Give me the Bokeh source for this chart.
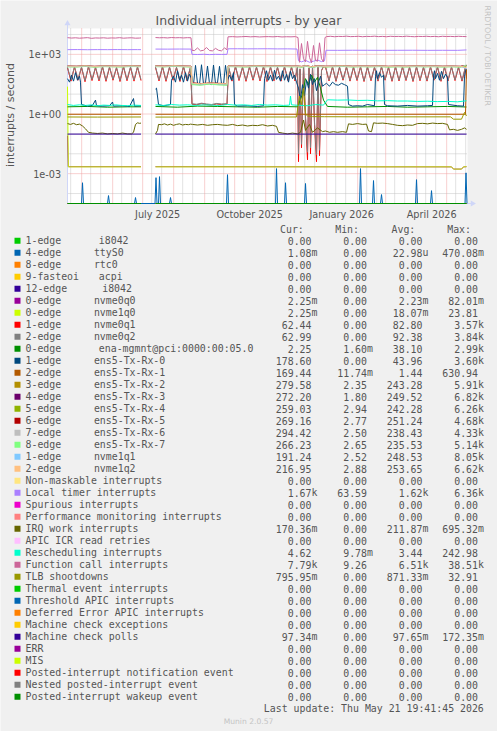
import math
from datetime import datetime
from bokeh.plotting import figure
from bokeh.models import Range1d, LinearScale
from bokeh.core.properties import value
from bokeh.embed import file_html
from bokeh.resources import INLINE

# ---------------- data (day offsets from START, values in interrupts/s) ----------------
START = datetime(2025, 4, 16, 19, 41, 45)
END = datetime(2026, 5, 21, 19, 41, 45)

ttys0_peak_days = [15, 41, 68, 88.5, 92, 103, 160, 209, 218, 238, 293, 306, 314, 349, 364, 398.5]
ttys0_peak_vals = [3.5e-4, 7.9e-5, 6.3e-5, 6.3e-4, 7.1e-4, 6.3e-5, 8.9e-4, 1.8e-3, 3.5e-4, 3.2e-4,
                   1.8e-3, 4.5e-4, 8.9e-5, 5e-4, 1.4e-4, 1.1e-3]

nvme0q0_days = [0, 0.8, 73.5, 74, 88, 384, 386, 394, 396, 399]
nvme0q0_vals = [0.082, 0.00225, 0.00225, None, 0.00225, 0.0022, 0.0017, 0.0017, 0.0022, 0.00225]

nvme1q0_days = [0, 0.8, 73.5, 74, 88, 384, 386, 394, 396, 399]
nvme1q0_vals = [23.81, 0.0022, 0.0022, None, 0.0022, 0.0022, 0.0017, 0.0017, 0.0022, 0.00225]

nvme_days = [0, 3.5, 7, 10.5, 14, 17.5, 21, 24.5, 28, 31.5, 35, 38.5, 42, 45.5, 49, 52.5, 56, 59.5, 63, 66.5, 70, 73.5,
             74,
             88, 91.5, 95, 98.5, 102, 105.5, 109, 112.5, 116, 119.5, 123,
             124.5, 129, 134, 139, 144, 149, 154, 159.5,
             161, 164.5, 168, 171.5, 175, 178.5, 182, 185.5, 189, 192.5, 196, 199.5, 203, 206.5, 210, 213.5, 217, 220.5, 224, 227.5,
             230, 231, 232.5, 234, 236, 238, 240, 241.5, 243, 245, 247, 249, 250.5, 252, 254, 256,
             258, 261.5, 265, 268.5, 272, 275.5, 279, 282.5, 286, 289.5, 293, 296.5, 300, 303.5, 307, 310.5, 314, 317.5, 321, 324.5,
             328, 331.5, 335, 338.5, 342, 345.5, 349, 352.5, 356, 359.5, 363, 366.5, 370, 373.5, 377, 380.5, 384, 387.5, 391, 394.5,
             398, 399]
nvme0q1_vals = [210, 45, 230, 50, 220, 42, 240, 48, 215, 46, 235, 44, 225, 50, 210, 43, 240, 47, 220, 45, 230, 48,
                None,
                220, 46, 235, 44, 225, 50, 215, 43, 240, 47, 225,
                3.1, 2.9, 3.3, 3.0, 2.8, 3.2, 3.0, 3.1,
                230, 45, 240, 48, 220, 44, 235, 50, 225, 46, 240, 43, 230, 47, 220, 45, 235, 48, 225, 46,
                240, 0.004, 180, 0.02, 250, 0.6, 0.005, 200, 0.01, 260, 0.3, 0.004, 220, 0.008, 150, 240,
                230, 46, 240, 44, 225, 50, 235, 45, 220, 48, 240, 43, 230, 47, 225, 45, 235, 50, 220, 44,
                240, 46, 230, 48, 225, 43, 235, 47, 220, 45, 240, 50, 230, 44, 225, 46, 235, 48, 220, 45,
                230, 62]
nvme0q2_vals = [225, 52, 240, 55, 230, 48, 250, 54, 228, 52, 245, 50, 236, 56, 222, 49, 250, 53, 232, 51, 240, 54,
                None,
                232, 52, 245, 50, 236, 56, 226, 49, 250, 53, 236,
                3.3, 3.1, 3.5, 3.2, 3.0, 3.4, 3.2, 3.3,
                240, 51, 250, 54, 232, 50, 246, 56, 236, 52, 250, 49, 240, 53, 232, 51, 246, 54, 236, 52,
                250, 0.01, 190, 0.03, 260, 0.8, 0.012, 210, 0.02, 270, 0.4, 0.009, 230, 0.015, 160, 250,
                240, 50, 232, 48, 236, 55, 228, 49, 242, 52, 230, 47, 238, 51, 226, 49, 244, 54, 231, 48,
                236, 50, 240, 52, 228, 47, 238, 51, 232, 49, 226, 54, 240, 48, 236, 50, 230, 52, 242, 49,
                238, 63]

ena_days = [0, 20, 40, 60, 73.5, 74, 88, 110, 130, 150, 170, 190, 210, 230, 235, 238, 241, 244, 247, 250,
            253, 256, 260, 280, 300, 320, 340, 360, 380, 399]
ena_vals = [2.3, 2.4, 2.2, 2.3, 2.3, None, 2.4, 2.2, 2.5, 2.4, 2.3, 2.2, 2.4, 2.3, 10, 60, 30, 90, 40, 70,
            20, 5, 2.4, 2.2, 2.3, 2.4, 2.2, 2.3, 2.4, 2.25]

txrx0_days = [0, 2, 4, 6, 8, 10, 12, 13, 14, 20, 25, 28, 29, 35, 42, 45, 46, 55, 62, 66, 67, 73.5, 74,
              88, 89, 91, 96, 100, 103, 104, 106, 108, 110, 112, 114, 116, 118, 120, 122, 124,
              126, 128, 130, 132, 134, 136, 138, 140, 142, 144, 146, 148, 150, 152, 154, 156, 158, 160,
              162, 164, 166, 167, 170, 180, 190, 196, 197, 199, 201, 203, 205, 207, 209, 211, 213, 215, 217, 219,
              221, 223, 225, 227, 229,
              231, 233, 235, 237, 239, 241, 243, 245, 247, 249, 251, 253, 255, 257,
              259, 262, 265, 268, 271, 274, 277, 280, 281, 285, 290, 295, 300, 307, 308, 309, 310, 312, 314, 316, 317,
              320, 330, 340, 350, 360, 365, 366, 367, 368, 370, 372, 374, 376, 378, 380, 381, 390, 396, 397, 398, 399]
txrx0_vals = [60, 40, 90, 45, 120, 50, 80, 40, 3, 2.5, 2.7, 5, 2.6, 2.5, 2.6, 4, 2.5, 2.6, 2.4, 6, 2.5, 2.6, None,
              18, 20, 3, 2.6, 2.8, 3, 50, 80, 40, 150, 50, 90, 40, 120, 45, 100, 60,
              32, 280, 35, 30, 300, 32, 38, 260, 33, 30, 290, 34, 38, 250, 33, 30, 280, 50,
              90, 50, 120, 3, 2.5, 2.6, 2.4, 2.6, 60, 150, 50, 90, 45, 160, 55, 80, 45, 150, 50, 100,
              40, 140, 60, 90, 40,
              20, 5, 30, 8, 50, 20, 100, 30, 60, 15, 40, 80, 25, 30,
              35, 25, 40, 30, 28, 35, 30, 25, 3, 2.5, 2.6, 2.5, 3, 2.6, 80, 150, 60, 120, 70, 90, 3,
              2.6, 2.5, 2.7, 2.5, 2.6, 2.7, 90, 150, 60, 110, 50, 140, 60, 100, 70, 3, 2.6, 2.5, 80, 150, 178.6]

txrx1_days = [0, 73.5, 74, 88, 398, 399]
txrx1_vals = [0.97, 0.97, None, 0.97, 0.97, 169.44]

band_days = [0, 9, 18, 27, 36, 45, 54, 63, 73.5, 74, 88, 97, 106, 115, 123.5, 124.5, 133, 142, 151, 159.5,
             160.5, 170, 179, 188, 197, 206, 215, 224, 229.5, 234, 239, 244, 249, 254,
             258.5, 267, 276, 285, 294, 303, 312, 321, 330, 339, 348, 357, 366, 375, 384, 393, 399]
txrx2_vals = [250, 245, 260, 240, 255, 250, 245, 258, 250, None, 255, 248, 262, 250, 245, 34, 31, 36, 33, 32,
              255, 250, 245, 260, 250, 255, 262, 248, 250, 240, 260, 230, 255, 250,
              245, 250, 258, 246, 252, 248, 255, 243, 250, 247, 255, 249, 252, 246, 250, 243, 280]
txrx3_vals = [255, 250, 262, 248, 258, 252, 250, 260, 255, None, 258, 252, 265, 255, 250, 36, 33, 35, 34, 33,
              260, 255, 250, 262, 255, 258, 260, 252, 255, 245, 265, 235, 260, 255,
              250, 255, 262, 250, 256, 252, 258, 248, 255, 250, 258, 252, 256, 250, 254, 248, 272]
txrx4_vals = [245, 240, 252, 238, 248, 244, 240, 250, 246, None, 248, 242, 255, 245, 240, 32, 30, 34, 31, 30,
              248, 244, 240, 252, 245, 250, 248, 242, 246, 235, 255, 225, 248, 244,
              240, 246, 250, 240, 246, 242, 248, 238, 244, 240, 248, 242, 246, 240, 244, 238, 259]
txrx5_vals = [258, 252, 265, 250, 260, 255, 252, 262, 258, None, 260, 255, 268, 258, 252, 37, 34, 36, 35, 34,
              262, 258, 252, 265, 258, 260, 262, 255, 258, 248, 268, 238, 262, 258,
              252, 258, 265, 252, 258, 255, 260, 250, 258, 252, 260, 255, 258, 252, 256, 250, 269]
txrx6_vals = [240, 236, 248, 232, 244, 240, 236, 246, 242, None, 244, 238, 250, 240, 236, 31, 29, 33, 30, 29,
              244, 240, 236, 248, 240, 244, 244, 238, 242, 232, 250, 222, 244, 240,
              236, 242, 246, 236, 242, 238, 244, 234, 240, 236, 244, 238, 242, 236, 240, 234, 294]
txrx7_vals = [238, 234, 246, 230, 242, 238, 234, 244, 240, None, 242, 236, 248, 238, 234, 30, 28, 32, 29, 28,
              242, 238, 234, 246, 238, 242, 242, 236, 240, 230, 248, 220, 242, 238,
              234, 240, 244, 234, 240, 236, 242, 232, 238, 234, 242, 236, 240, 234, 238, 232, 266]
nvme1q1_vals = [252, 248, 260, 244, 256, 250, 248, 258, 252, None, 254, 248, 262, 252, 248, 35, 32, 35, 33, 32,
                256, 252, 248, 260, 252, 256, 256, 250, 254, 244, 262, 232, 256, 252,
                248, 254, 260, 248, 254, 250, 256, 246, 252, 248, 256, 250, 254, 248, 252, 246, 191]
nvme1q2_vals = [256, 252, 264, 248, 260, 254, 252, 262, 256, None, 258, 252, 266, 256, 252, 36, 33, 36, 34, 33,
                260, 256, 252, 264, 256, 260, 260, 254, 258, 248, 266, 236, 260, 256,
                252, 258, 264, 252, 258, 254, 260, 250, 256, 252, 260, 254, 258, 252, 256, 250, 217]

loc_days = [0, 10, 20, 30, 40, 50, 60, 70, 73.5, 74, 88, 100, 112, 123.5,
            124.5, 130, 136, 142, 148, 154, 159.5, 160.5, 170, 180, 190, 200, 210, 220, 229.5,
            231, 234, 238, 242, 246, 250, 254, 257,
            258.5, 270, 285, 300, 315, 330, 345, 360, 375, 390, 399]
loc_vals = [1720, 1740, 1710, 1730, 1720, 1740, 1720, 1730, 1720, None, 1840, 1830, 1850, 1840,
            1000, 980, 1010, 970, 1000, 990, 1000, 1900, 1910, 1890, 1900, 1910, 1880, 1890, 1850,
            480, 420, 500, 400, 450, 520, 430, 470,
            1600, 1590, 1610, 1600, 1590, 1600, 1610, 1590, 1600, 1590, 1670]

iwi_days = [0, 3, 6, 9, 12, 15, 18, 21, 25, 30, 35, 40, 45, 50, 55, 60, 64, 66, 68, 70, 72, 73.5, 74,
            88, 90, 91, 94, 97, 100, 103, 106, 109, 112, 115, 118, 121, 123, 125, 130, 135, 140, 145, 150,
            155, 160, 165, 170, 175, 180, 185, 190, 195, 200, 205, 209, 211, 215, 220, 225, 230, 233, 236, 238,
            242, 245, 250, 255, 258, 262, 266, 270, 275, 279, 281, 285, 290, 295, 299, 301, 304, 306, 310, 315,
            320, 325, 330, 335, 340, 345, 350, 355, 360, 365, 370, 375, 380, 382, 386, 390, 394, 397, 399]
iwi_vals = [0.33, 0.3, 0.34, 0.29, 0.31, 0.25, 0.18, 0.12, 0.11, 0.105, 0.11, 0.1, 0.105, 0.1, 0.11, 0.1, 0.1,
            0.12, 0.3, 0.36, 0.34, 0.35, None,
            0.1, 0.15, 0.3, 0.29, 0.32, 0.28, 0.31, 0.27, 0.3, 0.32, 0.28, 0.3, 0.29, 0.31, 0.3, 0.28, 0.3, 0.27,
            0.29, 0.3, 0.28, 0.27, 0.3, 0.26, 0.28, 0.25, 0.27, 0.26, 0.29, 0.25, 0.27, 0.24, 0.12, 0.11, 0.1,
            0.11, 0.1, 0.12, 0.5, 0.15, 0.3, 0.12, 0.2, 0.13, 0.14, 0.12, 0.13, 0.12, 0.13, 0.12, 0.32, 0.3, 0.33,
            0.3, 0.31, 0.14, 0.13, 0.36, 0.34, 0.35, 0.33, 0.3, 0.27, 0.26, 0.28, 0.27, 0.33, 0.34, 0.32, 0.35,
            0.33, 0.34, 0.3, 0.16, 0.17, 0.15, 0.17, 0.2, 0.17]

res_days = [0, 6, 12, 18, 24, 30, 36, 42, 48, 54, 60, 66, 73.5, 74,
            88, 96, 104, 112, 120, 128, 136, 144, 152, 160, 168, 176, 184, 192, 200, 208, 216, 222, 223, 224,
            232, 240, 248, 256, 260, 270, 280, 290, 300, 310, 320, 330, 340, 350, 360, 370, 380, 390, 399]
res_vals = [3.0, 2.7, 2.9, 2.7, 2.9, 2.6, 2.8, 2.7, 2.9, 2.7, 2.6, 2.8, 2.7, None,
            2.9, 2.7, 3.0, 2.8, 2.9, 2.7, 2.9, 2.8, 2.7, 3.0, 2.8, 2.9, 2.7, 3.0, 2.8, 2.9, 2.7, 2.8, 8.0, 2.9,
            2.7, 2.6, 3.0, 2.8, 5.2, 5.0, 5.1, 4.8, 4.9, 4.6, 4.7, 4.5, 4.5, 4.3, 4.4, 4.2, 4.3, 4.1, 4.62]

cal_days = [0, 4, 8, 12, 16, 20, 24, 28, 32, 36, 40, 44, 48, 52, 56, 60, 64, 68, 72, 73.5, 74,
            88, 92, 96, 100, 104, 108, 112, 116, 120, 123.5,
            124.5, 127, 130, 133, 136, 139, 142, 145, 148, 151, 154, 157, 159.5,
            160.5, 165, 169.5, 174, 178.5, 183, 187.5, 192, 196.5, 201, 205.5, 210, 214.5, 219, 223.5, 228,
            230.5, 232, 234, 236, 238, 240, 242, 244, 246, 248, 250, 252, 254, 256, 257.5,
            259, 263, 267, 271, 275, 279, 283, 287, 291, 295, 299, 303, 307, 311, 315, 319, 323, 327, 331, 335,
            339, 343, 347, 351, 355, 359, 363, 367, 371, 375, 379, 383, 387, 391, 395, 399]
cal_vals = [6900, 6600, 6800, 6500, 6700, 6900, 6400, 6700, 6600, 6800, 6500, 6700, 6600, 6900, 6500, 6700,
            6800, 6500, 6600, 6700, None,
            7000, 6800, 6900, 6700, 7000, 6800, 6900, 6700, 6900, 6800,
            1600, 1550, 2100, 1500, 1600, 2200, 1550, 1500, 2000, 1600, 1500, 2100, 1700,
            7600, 7800, 7500, 7700, 7900, 7600, 7800, 7500, 7700, 7800, 7600, 7900, 7500, 7700, 7600, 7800,
            7000, 400, 3500, 600, 420, 4500, 700, 380, 2800, 500, 450, 3800, 600, 420, 7000,
            7800, 8100, 7700, 8000, 7900, 8200, 7800, 7900, 8100, 7700, 8000, 7900, 8200, 7800, 8000, 7700,
            8100, 7900, 8000, 7800, 8200, 7900, 7700, 8000, 7900, 8100, 7800, 8000, 7700, 8100, 7900, 8000,
            7800, 8100, 7900, 7790]

tlb_days = [0, 30, 73.5, 74, 88, 150, 229, 232, 234, 236, 238, 240, 245, 257, 300, 383, 386, 394, 397, 399]
tlb_vals = [0.71, 0.7, 0.71, None, 0.7, 0.71, 0.71, 8.0, 3.0, 20.0, 1.0, 0.8, 0.74, 0.73, 0.72, 0.72, 0.55,
            0.55, 1.2, 0.8]

mcp_days = [0, 73.5, 74, 88, 399]
mcp_vals = [0.0976, 0.0976, None, 0.0976, 0.0973]

# series that are zero for the whole year (rrdtool clamps them onto the bottom of the log graph)
zero_days = [0, 73.5, 74, 88, 399]
ZERO_COLORS = ["#00CC00", "#FF8000", "#FFCC00", "#330099", "#FFE680", "#EE00CC", "#FF8080", "#FFBFFF",
               "#00CC00", "#0066B3", "#FF8000", "#FFCC00", "#990099", "#CCFF00", "#FF0000", "#808080", "#008F00"]

# ---------------- legend table ----------------
LEG_L1 = ["1-edge", "4-edge", "8-edge", "9-fasteoi", "12-edge", "0-edge", "0-edge", "1-edge", "2-edge",
          "0-edge", "1-edge", "2-edge", "3-edge", "4-edge", "5-edge", "6-edge", "7-edge", "8-edge", "1-edge",
          "2-edge", "Non-maskable interrupts", "Local timer interrupts", "Spurious interrupts",
          "Performance monitoring interrupts", "IRQ work interrupts", "APIC ICR read retries",
          "Rescheduling interrupts", "Function call interrupts", "TLB shootdowns", "Thermal event interrupts",
          "Threshold APIC interrupts", "Deferred Error APIC interrupts", "Machine check exceptions",
          "Machine check polls", "ERR", "MIS", "Posted-interrupt notification event",
          "Nested posted-interrupt event", "Posted-interrupt wakeup event"]
LEG_L2 = ["i8042", "ttyS0", "rtc0", "acpi", "i8042", "nvme0q0", "nvme1q0", "nvme0q1", "nvme0q2",
          "ena-mgmnt@pci:0000:00:05.0", "ens5-Tx-Rx-0", "ens5-Tx-Rx-1", "ens5-Tx-Rx-2", "ens5-Tx-Rx-3",
          "ens5-Tx-Rx-4", "ens5-Tx-Rx-5", "ens5-Tx-Rx-6", "ens5-Tx-Rx-7", "nvme1q1", "nvme1q2"] + [""] * 19
LEG_COLORS = ["#00CC00", "#0066B3", "#FF8000", "#FFCC00", "#330099", "#990099", "#CCFF00", "#FF0000", "#808080",
              "#008F00", "#00487D", "#B35A00", "#B38F00", "#6B006B", "#8FB300", "#B30000", "#BEBEBE", "#80FF80",
              "#80C9FF", "#FFC080", "#FFE680", "#AA80FF", "#EE00CC", "#FF8080", "#666600", "#FFBFFF", "#00FFCC",
              "#CC6699", "#999900", "#00CC00", "#0066B3", "#FF8000", "#FFCC00", "#330099", "#990099", "#CCFF00",
              "#FF0000", "#808080", "#008F00"]
LEG_CUR = ["0.00", "1.08m", "0.00", "0.00", "0.00", "2.25m", "2.25m", "62.44", "62.99", "2.25", "178.60",
           "169.44", "279.58", "272.20", "259.03", "269.16", "294.42", "266.23", "191.24", "216.95", "0.00",
           "1.67k", "0.00", "0.00", "170.36m", "0.00", "4.62", "7.79k", "795.95m", "0.00", "0.00", "0.00",
           "0.00", "97.34m", "0.00", "0.00", "0.00", "0.00", "0.00"]
LEG_MIN = ["0.00", "0.00", "0.00", "0.00", "0.00", "0.00", "0.00", "0.00", "0.00", "1.60m", "0.00", "11.74m",
           "2.35", "1.80", "2.94", "2.77", "2.50", "2.65", "2.52", "2.88", "0.00", "63.59", "0.00", "0.00",
           "0.00", "0.00", "9.78m", "9.26", "0.00", "0.00", "0.00", "0.00", "0.00", "0.00", "0.00", "0.00",
           "0.00", "0.00", "0.00"]
LEG_AVG = ["0.00", "22.98u", "0.00", "0.00", "0.00", "2.23m", "18.07m", "82.80", "92.38", "38.10", "43.96",
           "1.44", "243.28", "249.52", "242.28", "251.24", "238.43", "235.53", "248.53", "253.65", "0.00",
           "1.62k", "0.00", "0.00", "211.87m", "0.00", "3.44", "6.51k", "871.33m", "0.00", "0.00", "0.00",
           "0.00", "97.65m", "0.00", "0.00", "0.00", "0.00", "0.00"]
LEG_MAX = ["0.00", "470.08m", "0.00", "0.00", "0.00", "82.01m", "23.81", "3.57k", "3.84k", "2.99k", "3.60k",
           "630.94", "5.91k", "6.82k", "6.26k", "4.68k", "4.33k", "5.14k", "8.05k", "6.62k", "0.00", "6.36k",
           "0.00", "0.00", "695.32m", "0.00", "242.98", "38.51k", "32.91", "0.00", "0.00", "0.00", "0.00",
           "172.35m", "0.00", "0.00", "0.00", "0.00", "0.00"]
HEADERS = ["Cur:", "Min:", "Avg:", "Max:"]
TITLE = "Individual interrupts - by year"
Y_LABEL = "interrupts / second"
Y_TICKS = [1e3, 1.0, 1e-3]
Y_TICK_LABELS = ["1e+03", "1e+00", "1e-03"]
Y_MINOR = [1e4, 1e2, 1e1, 1e-1, 1e-2, 1e-4]
X_TICKS = [datetime(2025, 7, 16), datetime(2025, 10, 16), datetime(2026, 1, 16), datetime(2026, 4, 16)]
X_TICK_LABELS = ["July 2025", "October 2025", "January 2026", "April 2026"]
LAST_UPDATE = "Last update: Thu May 21 19:41:45 2026"
FOOTER = "Munin 2.0.57"
SIDE_TEXT = "RRDTOOL / TOBI OETIKER"

# ---------------- helpers ----------------
EPOCH = datetime(1970, 1, 1)


def ms_of(dt):
    return (dt - EPOCH).total_seconds() * 1000.0


START_MS, END_MS = ms_of(START), ms_of(END)
DAY_MS = 86400000.0


def xs(days):
    return [START_MS + d * DAY_MS for d in days]


def ys(vals):
    return [float("nan") if v is None else float(v) for v in vals]


LOG_TOP, LOG_BOT = 4.3, -4.5
Y_MAX, Y_MIN = 10 ** LOG_TOP, 10 ** LOG_BOT

tt_days, tt_vals = [], []
for d, v in zip(ttys0_peak_days, ttys0_peak_vals):
    tt_days += [d - 1.0, d, d + 1.0]
    tt_vals += [Y_MIN, v, Y_MIN]

SERIES = [
    (tt_days, tt_vals, "#0066B3"),
    (nvme0q0_days, nvme0q0_vals, "#990099"),
    (nvme1q0_days, nvme1q0_vals, "#CCFF00"),
    (nvme_days, nvme0q1_vals, "#FF0000"),
    (nvme_days, nvme0q2_vals, "#808080"),
    (ena_days, ena_vals, "#008F00"),
    (txrx0_days, txrx0_vals, "#00487D"),
    (txrx1_days, txrx1_vals, "#B35A00"),
    (band_days, txrx2_vals, "#B38F00"),
    (band_days, txrx3_vals, "#6B006B"),
    (band_days, txrx4_vals, "#8FB300"),
    (band_days, txrx5_vals, "#B30000"),
    (band_days, txrx6_vals, "#BEBEBE"),
    (band_days, txrx7_vals, "#80FF80"),
    (band_days, nvme1q1_vals, "#80C9FF"),
    (band_days, nvme1q2_vals, "#FFC080"),
    (loc_days, loc_vals, "#AA80FF"),
    (iwi_days, iwi_vals, "#666600"),
    (res_days, res_vals, "#00FFCC"),
    (cal_days, cal_vals, "#CC6699"),
    (tlb_days, tlb_vals, "#999900"),
    (mcp_days, mcp_vals, "#330099"),
]
for dd, vv, _ in SERIES:
    assert len(dd) == len(vv), (len(dd), len(vv))
for lst in (LEG_L1, LEG_L2, LEG_COLORS, LEG_CUR, LEG_MIN, LEG_AVG, LEG_MAX):
    assert len(lst) == 39

# ---------------- page geometry (canvas pixels) ----------------
BG = "#F0F0F0"
FONT_C = "#555555"
SANS = "DejaVu Sans"
MONO = "DejaVu Sans Mono"
W, H = 497, 731
CH_L, CH_R, CH_T, CH_B = 67, 467, 28, 203
TXT_DY = -3.0  # baseline correction for alphabetic-baseline texts

px_per_ms = (CH_R - CH_L) / (END_MS - START_MS)
x0 = START_MS - CH_L / px_per_ms
x1 = END_MS + (W - CH_R) / px_per_ms
dec_px = (CH_B - CH_T) / (LOG_TOP - LOG_BOT)
y_top = 10 ** (LOG_TOP + CH_T / dec_px)
y_bot = 10 ** (LOG_BOT - (H - CH_B) / dec_px)

p = figure(width=W, height=H, x_axis_type="datetime", y_axis_type="log",
           x_range=Range1d(x0, x1), y_range=Range1d(y_bot, y_top),
           x_axis_location=None, y_axis_location=None, min_border=0, title=None,
           output_backend="svg", toolbar_location=None,
           background_fill_color=BG, border_fill_color=BG, outline_line_color=None)
p.grid.visible = False
p.extra_x_ranges = {"px": Range1d(0, W)}
p.extra_y_ranges = {"px": Range1d(H, 0)}
p.extra_x_scales = {"px": LinearScale()}
p.extra_y_scales = {"px": LinearScale()}
PX = dict(x_range_name="px", y_range_name="px")

# plot area
p.quad(left=[START_MS], right=[END_MS], bottom=[Y_MIN], top=[Y_MAX], fill_color="white", line_color=None)

# grid
MGRID = "#F0A0A0"
GRID = "#C4C4C4"
month_starts = [datetime(y, m, 1) for (y, m) in
                [(2025, 5), (2025, 6), (2025, 7), (2025, 8), (2025, 9), (2025, 10), (2025, 11), (2025, 12),
                 (2026, 1), (2026, 2), (2026, 3), (2026, 4), (2026, 5)]]
minor_x = []
for (y, m) in [(2025, 4), (2025, 5), (2025, 6), (2025, 7), (2025, 8), (2025, 9), (2025, 10), (2025, 11),
               (2025, 12), (2026, 1), (2026, 2), (2026, 3), (2026, 4), (2026, 5)]:
    for dday in (10, 20):
        t = ms_of(datetime(y, m, dday))
        if START_MS < t < END_MS:
            minor_x.append(t)
major_x = [ms_of(t) for t in month_starts]
p.segment(x0=minor_x, y0=[Y_MIN] * len(minor_x), x1=minor_x, y1=[Y_MAX] * len(minor_x),
          line_color=GRID, line_dash="1 1", line_width=1)
p.segment(x0=[START_MS] * len(Y_MINOR), y0=Y_MINOR, x1=[END_MS] * len(Y_MINOR), y1=Y_MINOR,
          line_color=GRID, line_dash="1 1", line_width=1)
p.segment(x0=major_x, y0=[Y_MIN] * len(major_x), x1=major_x, y1=[Y_MAX] * len(major_x),
          line_color=MGRID, line_dash="1 1", line_width=1)
p.segment(x0=[START_MS] * len(Y_TICKS), y0=Y_TICKS, x1=[END_MS] * len(Y_TICKS), y1=Y_TICKS,
          line_color=MGRID, line_dash="1 1", line_width=1)

# axes lines + arrows
AXIS_C = "#CFD6F8"
y_arrow = 10 ** (LOG_TOP + 5 / dec_px)
x_arrow = END_MS + 5 / px_per_ms
p.segment(x0=[START_MS], y0=[Y_MIN], x1=[START_MS], y1=[y_arrow], line_color=AXIS_C, line_width=1)
p.segment(x0=[START_MS], y0=[Y_MIN], x1=[x_arrow], y1=[Y_MIN], line_color=AXIS_C, line_width=1)
p.scatter(x=[START_MS], y=[y_arrow], marker="triangle", size=6, fill_color=AXIS_C, line_color=None)
p.scatter(x=[x_arrow], y=[Y_MIN], marker="triangle", angle=-math.pi / 2, size=6, fill_color=AXIS_C,
          line_color=None)

# data lines
for dd, vv, col in SERIES:
    p.line(xs(dd), ys(vv), line_color=col, line_width=1)
for zc in ZERO_COLORS:
    p.line(xs(zero_days), [Y_MIN, Y_MIN, float("nan"), Y_MIN, Y_MIN], line_color=zc, line_width=1)

# axis tick labels (positions through the scales)
p.text(x=[60.6] * 3, y=Y_TICKS, text=Y_TICK_LABELS, x_range_name="px", text_align="right",
       text_baseline="middle", text_font=value(SANS), text_font_size="9.7px", text_color=FONT_C)
p.text(x=[ms_of(t) for t in X_TICKS], y=[216.6 + TXT_DY] * 4, text=X_TICK_LABELS, y_range_name="px",
       text_align="center", text_baseline="alphabetic", text_font=value(SANS), text_font_size="9.7px",
       text_color=FONT_C)

# title, y label, side text
p.text(x=[248], y=[23 + TXT_DY], text=[TITLE], text_align="center", text_baseline="alphabetic",
       text_font=value(SANS), text_font_size="12.5px", text_color=FONT_C, **PX)
p.text(x=[10], y=[(CH_T + CH_B) / 2 - 1], text=[Y_LABEL], angle=math.pi / 2, text_align="center",
       text_baseline="middle", text_font=value(SANS), text_font_size="11px", text_color=FONT_C, **PX)
p.text(x=[487], y=[5], text=[SIDE_TEXT], angle=-math.pi / 2, text_align="left",
       text_baseline="middle", text_font=value(SANS), text_font_size="7.8px", text_color="#C4C4C4", **PX)

# ---------------- legend ----------------
n = len(LEG_L1)
row_base = [243.3 + 12 * i + TXT_DY for i in range(n)]
row_mid = [240.3 + 12 * i for i in range(n)]
p.rect(x=[17] * n, y=row_mid, width=6, height=6, fill_color=LEG_COLORS, line_color=None, **PX)

mono_kw = dict(text_font=value(MONO), text_font_size="9.9px", text_color=FONT_C, text_baseline="alphabetic")
p.text(x=[25] * n, y=row_base, text=LEG_L1, text_align="left", **mono_kw, **PX)

part2_x = []
for i, lab in enumerate(LEG_L2):
    if i == 4:
        part2_x.append(101.7)
    elif i == 0 or lab == "acpi" or lab.startswith("ena-"):
        part2_x.append(98.3)
    else:
        part2_x.append(93.4)
p.text(x=part2_x, y=row_base, text=LEG_L2, text_align="left", **mono_kw, **PX)

COL_R = [311, 366.5, 422, 477.5]
for col_vals, xr in zip((LEG_CUR, LEG_MIN, LEG_AVG, LEG_MAX), COL_R):
    nums, units = [], []
    for s in col_vals:
        if s[-1].isalpha():
            nums.append(s[:-1])
            units.append(s[-1])
        else:
            nums.append(s)
            units.append("")
    p.text(x=[xr] * n, y=row_base, text=nums, text_align="right", **mono_kw, **PX)
    p.text(x=[xr] * n, y=row_base, text=units, text_align="left", **mono_kw, **PX)

HDR_X = [279.5, 334.7, 391, 446.7]
p.text(x=HDR_X, y=[231.5 + TXT_DY] * 4, text=HEADERS, text_align="left", **mono_kw, **PX)
p.text(x=[483.3], y=[243.3 + 12 * n + TXT_DY], text=[LAST_UPDATE], text_align="right", **mono_kw, **PX)
p.text(x=[248], y=[722.0 - 1.5], text=[FOOTER], text_align="center", text_baseline="alphabetic",
       text_font=value(SANS), text_font_size="7.6px", text_color="#C4C4C4", **PX)

open("out.html", "w").write(file_html(p, INLINE))
